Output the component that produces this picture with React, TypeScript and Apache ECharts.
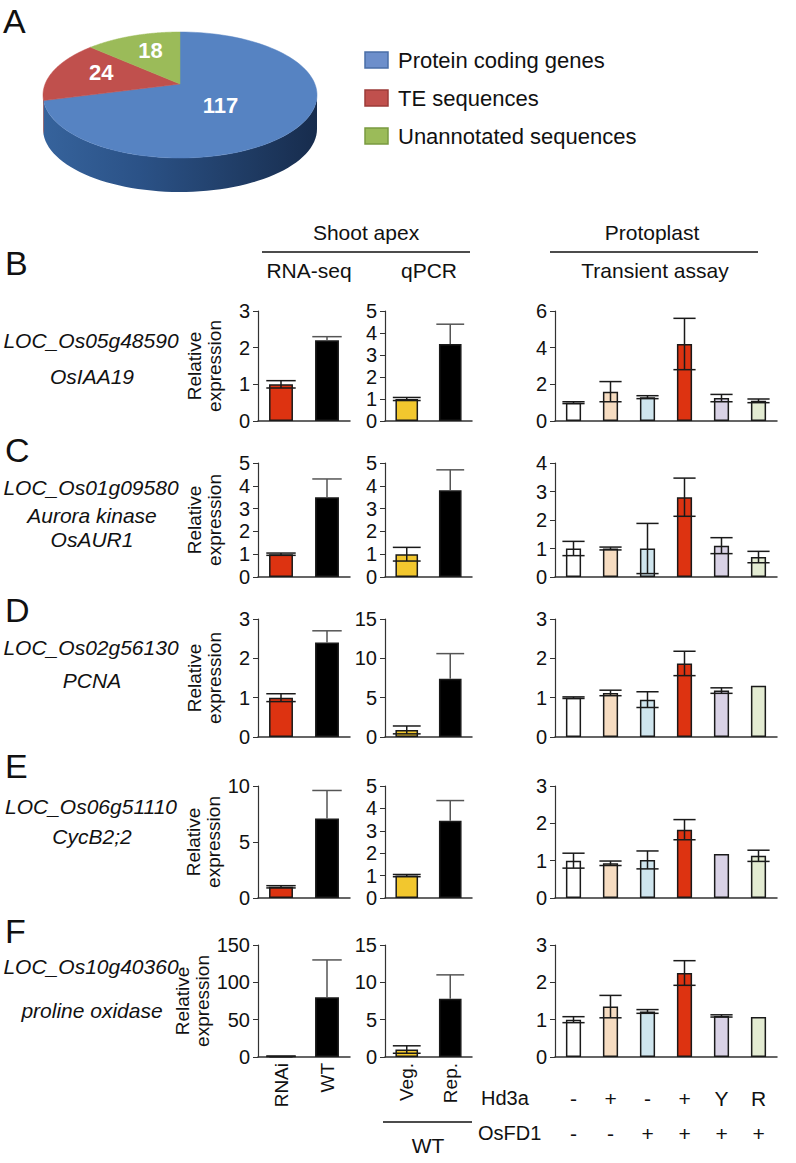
import React, { useEffect, useRef } from "react";
import * as echarts from "echarts";

// ---------- DATA ----------
const pieNames = ["Protein coding genes", "TE sequences", "Unannotated sequences"];
const pieValues = [117, 24, 18];

const panelLetters = ["B", "C", "D", "E", "F"];
const geneIds = ["LOC_Os05g48590", "LOC_Os01g09580", "LOC_Os02g56130", "LOC_Os06g51110", "LOC_Os10g40360"];
const geneNames = [["OsIAA19"], ["Aurora kinase", "OsAUR1"], ["PCNA"], ["CycB2;2"], ["proline oxidase"]];

const rnaSeqCats = ["RNAi", "WT"];
const qpcrCats = ["Veg.", "Rep."];
const hd3aRow = ["-", "+", "-", "+", "Y", "R"];
const osfd1Row = ["-", "-", "+", "+", "+", "+"];

const rnaSeqMax = [3, 5, 3, 10, 150];
const rnaSeqStep = [1, 1, 1, 5, 50];
const qpcrMax = [5, 5, 15, 5, 15];
const qpcrStep = [1, 1, 5, 1, 5];
const transMax = [6, 4, 3, 3, 3];
const transStep = [2, 1, 1, 1, 1];

const rnaSeqMean = [[1, 2.2], [1, 3.5], [1, 2.4], [1, 7.1], [1, 80]];
const rnaSeqErr = [[0.1, 0.1], [0.05, 0.8], [0.1, 0.3], [0.1, 2.5], [0.3, 50]];
const qpcrMean = [[1, 3.5], [1, 3.8], [0.9, 7.4], [1, 3.45], [1, 7.8]];
const qpcrErr = [[0.07, 0.9], [0.3, 0.9], [0.5, 3.2], [0.05, 0.9], [0.5, 3.2]];
const transMean = [
  [1, 1.6, 1.3, 4.2, 1.25, 1.1],
  [1, 1, 1, 2.8, 1.1, 0.7],
  [1, 1.12, 0.95, 1.87, 1.18, 1.3],
  [1, 0.93, 1.02, 1.83, 1.18, 1.13],
  [1, 1.35, 1.22, 2.25, 1.1, 1.07],
];
const transErr = [
  [0.05, 0.55, 0.08, 1.4, 0.2, 0.1],
  [0.25, 0.05, 0.88, 0.67, 0.28, 0.2],
  [0.02, 0.07, 0.2, 0.31, 0.07, 0],
  [0.2, 0.06, 0.24, 0.27, 0, 0.15],
  [0.08, 0.3, 0.05, 0.33, 0.03, 0],
];

// ---------- STYLE / LAYOUT ----------
const FONT = "Liberation Sans, Arial, Helvetica, sans-serif";
const rowTop = [311, 463, 619, 786, 945];
const rowBottom = [421, 577, 737, 898, 1057];
const colLeft = [258, 385, 555];
const colWidth = [92, 87, 222];
const letterY = [263, 450, 610, 766, 931];
const locY = [340, 487, 647, 806, 966];
const nameY = [[376], [515, 539], [680], [836], [1010]];
const rnaColors = ["#dd3311", "#000000"];
const qpcrColors = ["#f2c72e", "#000000"];
const transColors = ["#ffffff", "#f6dcc1", "#cfe5ee", "#dd3311", "#d9d2e6", "#e3ebd2"];
const pieTop = ["#5683c2", "#c0504d", "#9bbb59"];
const pieSide = ["#2a4f84", "#8e3330", "#71893f"];
const legendFill = ["#6d8fcb", "#c0504d", "#9bbb59"];
const legendBorder = ["#4a6fa8", "#9c3b38", "#7a9a40"];

const cx = 180, cy = 95, rx = 137, ry = 63, depth = 34, apexY = 84;
const ept = (deg: number, dy = 0) => [cx + rx * Math.cos((deg * Math.PI) / 180), cy - ry * Math.sin((deg * Math.PI) / 180) + dy];

function pieRender(params: any, api: any) {
  const i = params.dataIndex;
  const total = pieValues.reduce((a, b) => a + b, 0);
  let before = 0;
  for (let k = 0; k < i; k++) before += pieValues[k];
  const b = 90 - (before / total) * 360;
  const a = b - (api.value(0) / total) * 360;
  const children: any[] = [];
  const wins = [[-180, 0], [180, 360], [-540, -360]];
  for (const w of wins) {
    const s = Math.max(a, w[0]);
    const e = Math.min(b, w[1]);
    if (e > s) {
      const pts: number[][] = [];
      const n = 60;
      for (let k = 0; k <= n; k++) pts.push(ept(s + ((e - s) * k) / n));
      for (let k = n; k >= 0; k--) pts.push(ept(s + ((e - s) * k) / n, depth));
      children.push({
        type: "polygon",
        shape: { points: pts },
        style: {
          fill: i === 0
            ? new echarts.graphic.LinearGradient(cx - rx, 0, cx + rx, 0, [
                { offset: 0, color: "#36639c" },
                { offset: 0.35, color: "#2b5287" },
                { offset: 0.75, color: "#1f3b63" },
                { offset: 1, color: "#172c4d" },
              ], true)
            : pieSide[i],
          stroke: null,
        },
      });
    }
  }
  const top: number[][] = [[cx, apexY]];
  const n = 120;
  for (let k = 0; k <= n; k++) top.push(ept(a + ((b - a) * k) / n));
  children.push({
    type: "polygon",
    shape: { points: top },
    style: { fill: pieTop[i], stroke: pieTop[i], lineWidth: 0.5 },
  });
  const frac = api.value(0) / total;
  const mid = (a + b) / 2;
  const edge = ept(mid);
  const f = frac > 0.5 ? 0.4 : 0.62;
  children.push({
    type: "text",
    x: cx + f * (edge[0] - cx),
    y: apexY + f * (edge[1] - apexY) - (frac > 0.5 ? 0 : 4),
    style: {
      text: String(api.value(0)),
      fill: "#ffffff",
      font: `bold 22px ${FONT}`,
      align: "center",
      verticalAlign: "middle",
    },
  });
  return { type: "group", children };
}

const errRender = (capFrac: number, barColors: string[]) => (params: any, api: any) => {
  const x = api.value(0), m = api.value(1), e = api.value(2);
  const children: any[] = [];
  if (e > 0) {
    const dark = barColors[x] === "#000000";
    const color = dark ? "#555555" : "#1a1a1a";
    const t = api.coord([x, m + e]);
    const bt = dark ? api.coord([x, m]) : api.coord([x, Math.max(0, m - e)]);
    const half = (api.size([1, 0])[0] * capFrac) / 2;
    const style = { stroke: color, lineWidth: 1.5 };
    children.push({ type: "line", shape: { x1: t[0], y1: t[1], x2: bt[0], y2: bt[1] }, style });
    children.push({ type: "line", shape: { x1: t[0] - half, y1: t[1], x2: t[0] + half, y2: t[1] }, style });
    if (!dark) children.push({ type: "line", shape: { x1: bt[0] - half, y1: bt[1], x2: bt[0] + half, y2: bt[1] }, style });
  }
  return { type: "group", children };
};

function buildOption() {
  const grid: any[] = [], xAxis: any[] = [], yAxis: any[] = [], series: any[] = [];
  const graphic: any[] = [];

  series.push({
    type: "custom",
    coordinateSystem: "none",
    renderItem: pieRender,
    data: pieValues.map((v, i) => ({ value: v, name: pieNames[i] })),
    silent: true,
  });

  for (let r = 0; r < 5; r++) {
    const panels = [
      { cats: rnaSeqCats, mean: rnaSeqMean[r], err: rnaSeqErr[r], max: rnaSeqMax[r], step: rnaSeqStep[r], colors: rnaColors, bw: "52%", cap: 0.32 },
      { cats: qpcrCats, mean: qpcrMean[r], err: qpcrErr[r], max: qpcrMax[r], step: qpcrStep[r], colors: qpcrColors, bw: "52%", cap: 0.32 },
      { cats: transMean[r].map((_, i) => `${hd3aRow[i]}\n${osfd1Row[i]}`), mean: transMean[r], err: transErr[r], max: transMax[r], step: transStep[r], colors: transColors, bw: "41%", cap: 0.3 },
    ];
    panels.forEach((p, c) => {
      const gi = grid.length;
      grid.push({ left: colLeft[c], width: colWidth[c], top: rowTop[r], height: rowBottom[r] - rowTop[r] });
      const last = r === 4;
      let axisLabel: any = { show: false };
      if (last && c < 2) {
        axisLabel = { show: true, rotate: 90, fontSize: 19, color: "#111", fontFamily: FONT, margin: 6, interval: 0 };
      } else if (last && c === 2) {
        axisLabel = { show: true, fontSize: 21, color: "#111", fontFamily: FONT, margin: 24, lineHeight: 35, interval: 0 };
      }
      xAxis.push({
        type: "category",
        gridIndex: gi,
        data: p.cats,
        axisLine: { show: true, lineStyle: { color: "#333", width: 1.5 } },
        axisTick: { show: false },
        axisLabel,
        splitLine: { show: false },
      });
      yAxis.push({
        type: "value",
        gridIndex: gi,
        min: 0,
        max: p.max,
        interval: p.step,
        name: c === 0 ? "Relative\nexpression" : "",
        nameLocation: "middle",
        nameRotate: 90,
        nameGap: r === 4 ? 39 : 34,
        nameTextStyle: { fontSize: 19, fontFamily: FONT, color: "#111", lineHeight: 20 },
        axisLine: { show: true, lineStyle: { color: "#333", width: 1.2 } },
        axisTick: { show: true, length: 5, lineStyle: { color: "#333" } },
        axisLabel: { fontSize: 20, color: "#111", fontFamily: FONT, margin: 8 },
        splitLine: { show: false },
      });
      series.push({
        type: "bar",
        xAxisIndex: gi,
        yAxisIndex: gi,
        barWidth: p.bw,
        data: p.mean.map((v, i) => ({ value: v, itemStyle: { color: p.colors[i] } })),
        itemStyle: { borderColor: "#1a1a1a", borderWidth: 1.5 },
        silent: true,
      });
      series.push({
        type: "custom",
        xAxisIndex: gi,
        yAxisIndex: gi,
        z: 5,
        renderItem: errRender(p.cap * 2, p.colors),
        encode: { x: 0, y: 1 },
        data: p.mean.map((v, i) => [i, v, p.err[i]]),
        silent: true,
      });
    });

    graphic.push({ type: "text", left: 5, top: letterY[r] - 17, style: { text: panelLetters[r], font: `34px ${FONT}`, fill: "#111" } });
    graphic.push({ type: "text", x: 91, y: locY[r], style: { text: geneIds[r], font: `italic 21px ${FONT}`, fill: "#111", align: "center", verticalAlign: "middle" } });
    geneNames[r].forEach((nm, k) => {
      graphic.push({ type: "text", x: 92, y: nameY[r][k], style: { text: nm, font: `italic 21px ${FONT}`, fill: "#111", align: "center", verticalAlign: "middle" } });
    });
  }

  // Panel A letter and legend
  graphic.push({ type: "text", x: 3, y: 4, style: { text: "A", font: `34px ${FONT}`, fill: "#111" } });
  const legY = [60, 98, 136];
  pieNames.forEach((nm, i) => {
    graphic.push({ type: "rect", shape: { x: 365, y: legY[i] - 8, width: 23, height: 16 }, style: { fill: legendFill[i], stroke: legendBorder[i], lineWidth: 1.5 } });
    graphic.push({ type: "text", x: 398, y: legY[i], style: { text: nm, font: `22px ${FONT}`, fill: "#111", verticalAlign: "middle" } });
  });

  // Headers
  const hdr = (text: string, x: number, y: number) =>
    graphic.push({ type: "text", x, y, style: { text, font: `21px ${FONT}`, fill: "#111", align: "center", verticalAlign: "middle" } });
  hdr("Shoot apex", 366, 232);
  graphic.push({ type: "line", shape: { x1: 262, y1: 252, x2: 470, y2: 252 }, style: { stroke: "#111", lineWidth: 1.5 } });
  hdr("RNA-seq", 309, 270);
  hdr("qPCR", 429, 270);
  hdr("Protoplast", 652, 232);
  graphic.push({ type: "line", shape: { x1: 550, y1: 252, x2: 758, y2: 252 }, style: { stroke: "#111", lineWidth: 1.5 } });
  hdr("Transient assay", 655, 270);

  // Bottom annotations
  graphic.push({ type: "line", shape: { x1: 383, y1: 1122, x2: 472, y2: 1122 }, style: { stroke: "#111", lineWidth: 1.5 } });
  hdr("WT", 428, 1145);
  graphic.push({ type: "text", x: 481, y: 1098, style: { text: "Hd3a", font: `20px ${FONT}`, fill: "#111", verticalAlign: "middle" } });
  graphic.push({ type: "text", x: 478, y: 1133, style: { text: "OsFD1", font: `20px ${FONT}`, fill: "#111", verticalAlign: "middle" } });

  return {
    animation: false,
    backgroundColor: "#ffffff",
    textStyle: { fontFamily: FONT },
    grid,
    xAxis,
    yAxis,
    series,
    graphic,
  };
}

export default function App() {
  const ref = useRef<HTMLDivElement>(null);
  useEffect(() => {
    if (!ref.current) return;
    const chart = echarts.init(ref.current, undefined, { renderer: "svg" });
    chart.setOption(buildOption() as any);
    return () => chart.dispose();
  }, []);
  return <div ref={ref} style={{ position: "absolute", left: 0, top: 0, width: 796, height: 1163 }} />;
}
